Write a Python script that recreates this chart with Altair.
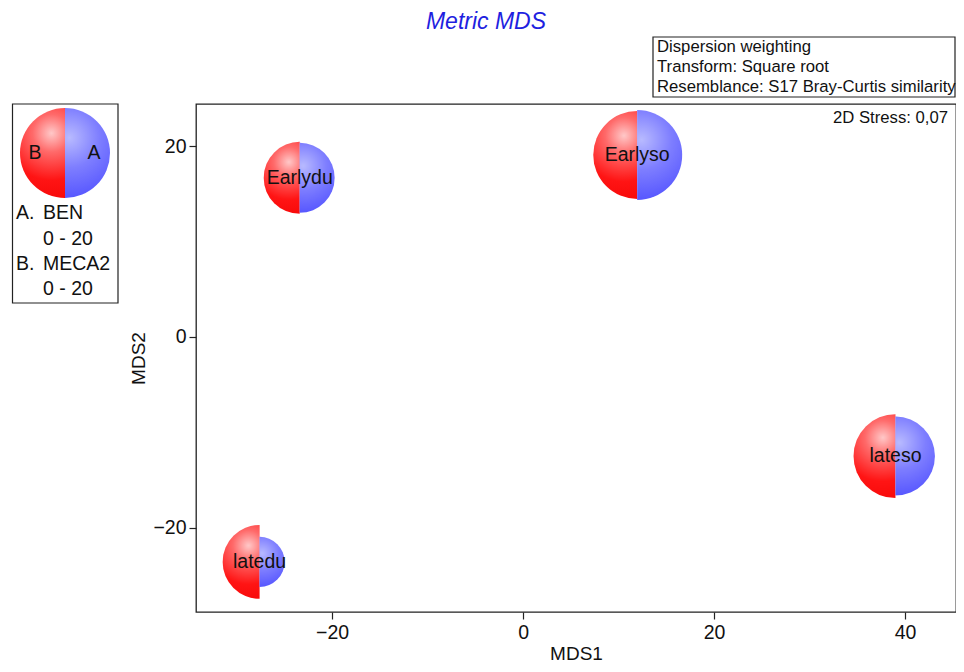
import math
import altair as alt
import pandas as pd

# ---------------- data ----------------
samples = ["Earlydu", "Earlyso", "latedu", "lateso"]
mds1 = [-23.4, 11.95, -27.6, 39.0]
mds2 = [16.7, 19.1, -23.6, -12.5]
ben = [12.1, 20.0, 6.2, 15.4]      # A (blue, right half)
meca2 = [12.8, 19.1, 13.5, 17.4]   # B (red, left half)

title_text = "Metric MDS"
info_lines = ["Dispersion weighting", "Transform: Square root",
              "Resemblance: S17 Bray-Curtis similarity"]
stress_text = "2D Stress: 0,07"
legend_keys = ["A.", "B."]
legend_vars = ["BEN", "MECA2"]
legend_ranges = ["0 - 20", "0 - 20"]
legend_letters = ["B", "A"]
legend_max = [20]
x_ticks = [-20, 0, 20, 40]
y_ticks = [-20, 0, 20]

FONT = "Liberation Sans"

pts = pd.DataFrame({"sample": samples, "MDS1": mds1, "MDS2": mds2,
                    "BEN": ben, "MECA2": meca2})
leg = pd.DataFrame({"value": legend_max})

xs = alt.Scale(domain=[-34.26, 45.34], nice=False, zero=False)
ys = alt.Scale(domain=[-28.86, 24.45], nice=False, zero=False)
rs = alt.Scale(type="sqrt", domain=[0, 20], range=[0, 45], zero=True)

xaxis = alt.Axis(values=x_ticks, title="MDS1", labelPadding=4, titlePadding=3)
yaxis = alt.Axis(values=y_ticks, title="MDS2", labelPadding=3, titlePadding=4)

red_grad = {"gradient": "radial", "x1": 0.6, "y1": 0.28, "r1": 0,
            "x2": 0.6, "y2": 0.28, "r2": 0.95,
            "stops": [{"offset": 0, "color": "#ffc8c8"},
                      {"offset": 0.22, "color": "#ff6a6a"},
                      {"offset": 0.55, "color": "#ff1414"},
                      {"offset": 1, "color": "#f00000"}]}
blue_grad = {"gradient": "radial", "x1": 0.3, "y1": 0.33, "r1": 0,
             "x2": 0.3, "y2": 0.33, "r2": 0.95,
             "stops": [{"offset": 0, "color": "#b8baff"},
                       {"offset": 0.35, "color": "#7e7eff"},
                       {"offset": 0.75, "color": "#5252ff"},
                       {"offset": 1, "color": "#3c3cf0"}]}

base = alt.Chart(pts)
pos = dict(x=alt.X("MDS1:Q", scale=xs, axis=xaxis),
           y=alt.Y("MDS2:Q", scale=ys, axis=yaxis))

red = base.mark_arc(fill=red_grad, strokeWidth=0).encode(
    radius=alt.Radius("MECA2:Q", scale=rs, stack=False),
    theta=alt.value(math.pi), theta2=alt.value(2 * math.pi), **pos)
blue = base.mark_arc(fill=blue_grad, strokeWidth=0).encode(
    radius=alt.Radius("BEN:Q", scale=rs, stack=False),
    theta=alt.value(0), theta2=alt.value(math.pi), **pos)
labels = base.mark_text(font=FONT, fontSize=19.5, color="#111").encode(
    text="sample:N", **pos)

# legend symbol
leg_red = alt.Chart(leg).mark_arc(fill=red_grad, strokeWidth=0).encode(
    x=alt.value(-131), y=alt.value(49),
    radius=alt.Radius("value:Q", scale=rs, stack=False),
    theta=alt.value(math.pi), theta2=alt.value(2 * math.pi))
leg_blue = alt.Chart(leg).mark_arc(fill=blue_grad, strokeWidth=0).encode(
    x=alt.value(-131), y=alt.value(49),
    radius=alt.Radius("value:Q", scale=rs, stack=False),
    theta=alt.value(0), theta2=alt.value(math.pi))


def txt(s, x, y, size=19.5, align="left", baseline="middle", **kw):
    return alt.Chart(pd.DataFrame({"t": [s]})).mark_text(
        font=FONT, fontSize=size, align=align, baseline=baseline,
        color=kw.pop("color", "#111"), **kw).encode(
        text="t:N", x=alt.value(x), y=alt.value(y))


def box(x0, x1, y0, y1):
    return alt.Chart(pd.DataFrame({"b": [0]})).mark_rect(
        filled=False, stroke="#222", strokeWidth=1.2).encode(
        x=alt.value(x0), x2=alt.value(x1), y=alt.value(y0), y2=alt.value(y1))


layers = [red, blue, labels, leg_red, leg_blue,
          txt(legend_letters[0], -161, 49, align="center"),
          txt(legend_letters[1], -102, 49, align="center"),
          box(-183.5, -78, 0, 199)]
ly = [109, 134.5, 160, 185]
layers += [txt(legend_keys[0], -180, ly[0]), txt(legend_vars[0], -153, ly[0]),
           txt(legend_ranges[0], -153, ly[1]),
           txt(legend_keys[1], -180, ly[2]), txt(legend_vars[1], -153, ly[2]),
           txt(legend_ranges[1], -153, ly[3])]
# info box
layers += [box(457, 759, -67, -7)]
for i, line in enumerate(info_lines):
    layers.append(txt(line, 461, -57 + 20 * i, size=16.7))
layers.append(txt(stress_text, 752, 14, size=16.7, align="right"))
layers.append(txt(title_text, 290, -75, size=23, align="center",
                  baseline="alphabetic", fontStyle="italic", color="#1f1fe0"))

chart = alt.layer(*layers).properties(
    width=760, height=508,
    autosize=alt.AutoSizeParams(type="none"),
    padding={"left": 188, "top": 96, "right": 0, "bottom": 52},
    background="white",
).configure_view(stroke="#222", strokeWidth=1.3).configure_axis(
    labelFont=FONT, titleFont=FONT, labelFontSize=19.5, titleFontSize=19,
    labelColor="#111", titleColor="#111", tickColor="#222", tickSize=7,
    tickWidth=1.2, domain=False, grid=False, titleFontWeight="normal",
)

chart.save("out.html", embed_options={"renderer": "svg", "actions": False})
